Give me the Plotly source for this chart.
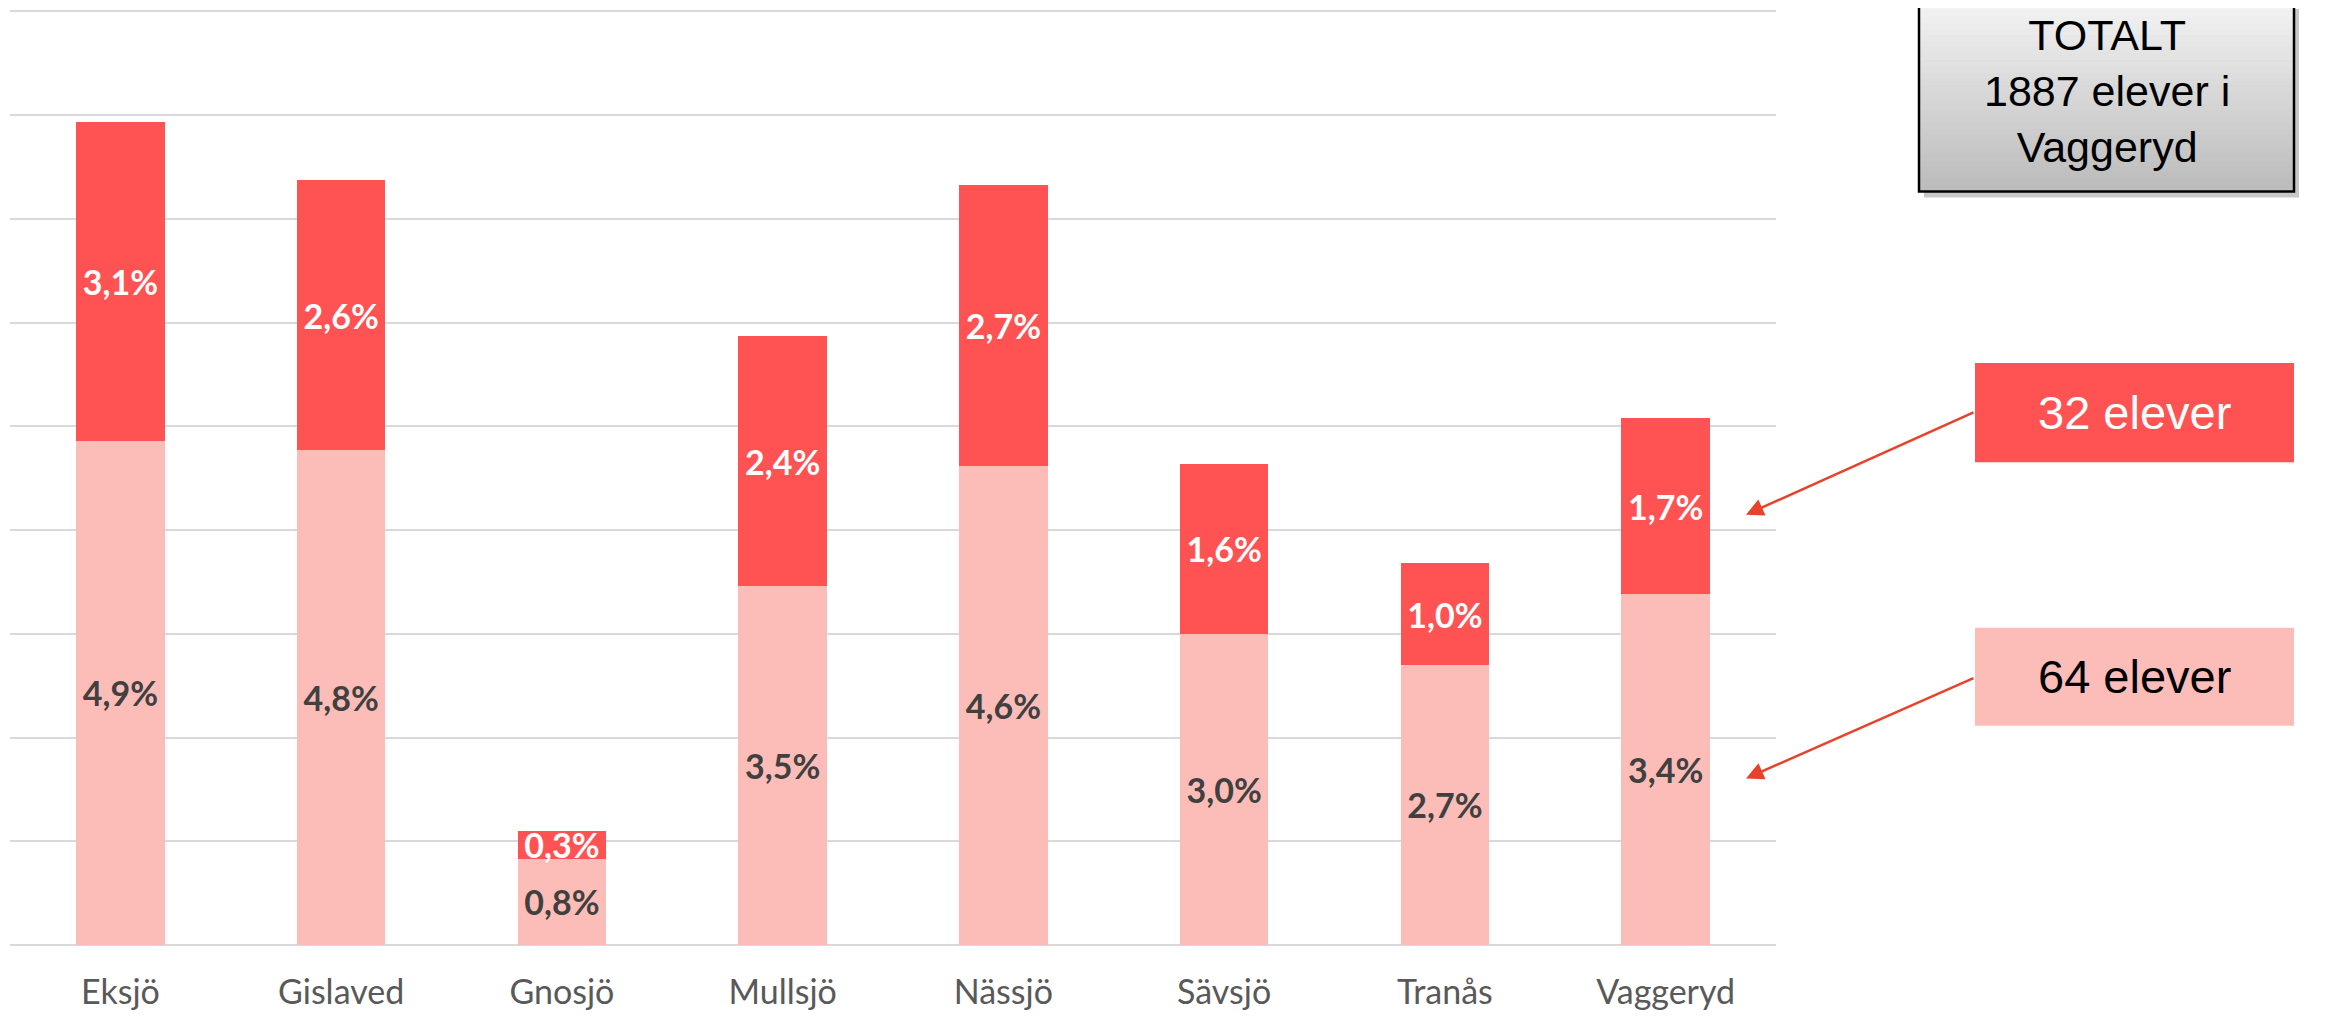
import plotly.graph_objects as go

# kommuner + andel elever (procent) (staplarnas höjd)
kommuner = ["Eksjö", "Gislaved", "Gnosjö", "Mullsjö", "Nässjö", "Sävsjö", "Tranås", "Vaggeryd"]
andel_64 = [4.86, 4.77, 0.83, 3.46, 4.62, 3.0, 2.7, 3.38]
andel_32 = [3.07, 2.6, 0.27, 2.41, 2.71, 1.64, 0.98, 1.7]
y_ticks = [0, 1, 2, 3, 4, 5, 6, 7, 8, 9]

RED = "#ff5252"
PINK = "#fcbdb9"
ARROW = "#e8422b"

# sidan har 8px body-marginal, så figuren görs lite mindre än fönstret
OFF = 8
W, H = 2320, 1005
ML, MR, MT, MB = 2, 552, 2, 60


def px(x):
    # skärmpixel -> paper x
    return (x - OFF - ML) / (W - ML - MR)


def py(y):
    # skärmpixel -> paper y
    return 1 - (y - OFF - MT) / (H - MT - MB)


fig = go.Figure()
fig.add_trace(go.Bar(
    x=kommuner, y=andel_64, name="64 elever",
    marker={"color": PINK, "line": {"width": 0}},
    texttemplate="%{y:.1f}%", textposition="inside", insidetextanchor="middle",
    constraintext="none",
    textfont={"family": "Lato", "size": 34, "color": "#404040", "weight": "bold"},
))
fig.add_trace(go.Bar(
    x=kommuner, y=andel_32, name="32 elever",
    marker={"color": RED, "line": {"width": 0}},
    texttemplate="%{y:.1f}%", textposition="inside", insidetextanchor="middle",
    constraintext="none",
    textfont={"family": "Lato", "size": 34, "color": "white", "weight": "bold"},
))

fig.update_layout(
    width=W, height=H,
    margin={"l": ML, "r": MR, "t": MT, "b": MB},
    barmode="stack", bargap=0.6,
    separators=", ",
    showlegend=False,
    plot_bgcolor="white", paper_bgcolor="white",
    uniformtext={"mode": "show", "minsize": 34},
    xaxis={
        "showgrid": False, "showline": False, "zeroline": False,
        "tickfont": {"family": "Lato", "size": 34, "color": "#595959"},
        "ticks": "", "ticklabelstandoff": 24,
    },
    yaxis={
        "range": [0, 9.012], "tickvals": y_ticks, "showticklabels": False,
        "showgrid": True, "gridcolor": "#d9d9d9", "gridwidth": 2,
        "zeroline": True, "zerolinecolor": "#d9d9d9", "zerolinewidth": 2,
        "showline": False,
    },
)

# TOTALT-ruta: skugga, gradient, ram
bx0, bx1, by0, by1 = 1919, 2294, 4, 193
fig.add_shape(type="rect", xref="paper", yref="paper",
              x0=px(bx0 + 5), x1=px(bx1 + 5), y0=py(by1 + 6), y1=py(by0 + 5),
              fillcolor="#c8c8c8", line={"width": 0}, layer="above")
steps = 30
for i in range(steps):
    t = i / (steps - 1)
    c = int(242 - t * (242 - 188))
    ya = by0 + (by1 - by0) * i / steps
    yb = by0 + (by1 - by0) * (i + 1) / steps
    fig.add_shape(type="rect", xref="paper", yref="paper",
                  x0=px(bx0), x1=px(bx1), y0=py(yb + 0.5), y1=py(ya),
                  fillcolor=f"rgb({c},{c},{c})", line={"width": 0}, layer="above")
fig.add_shape(type="rect", xref="paper", yref="paper",
              x0=px(bx0), x1=px(bx1), y0=py(by1), y1=py(by0 - 10),
              fillcolor="rgba(0,0,0,0)", line={"color": "black", "width": 2.5}, layer="above")
fig.add_annotation(xref="paper", yref="paper", x=px((bx0 + bx1) / 2), y=py(OFF + 0.5),
                   text="TOTALT<br>1887 elever i<br>Vaggeryd", showarrow=False,
                   font={"family": "Liberation Sans", "size": 43, "color": "black"},
                   align="center", xanchor="center", yanchor="top")

# förklaringsrutor med pilar
for (y0, y1, fill, txt, col, tip_y, tail_y) in [
    (366, 466, RED, "32 elever", "white", 519, 416),
    (633, 732, PINK, "64 elever", "black", 785, 684),
]:
    fig.add_shape(type="rect", xref="paper", yref="paper",
                  x0=px(1975), x1=px(2294), y0=py(y1), y1=py(y0),
                  fillcolor=fill, line={"width": 0}, layer="above")
    fig.add_annotation(xref="paper", yref="paper", x=px((1975 + 2294) / 2), y=py((y0 + y1) / 2),
                       text=txt, showarrow=False,
                       font={"family": "Liberation Sans", "size": 47, "color": col},
                       xanchor="center", yanchor="middle")
    fig.add_annotation(xref="paper", yref="paper", x=px(1746), y=py(tip_y),
                       ax=1975 - 1746, ay=tail_y - tip_y, text="",
                       showarrow=True, arrowhead=2, arrowsize=1.4, arrowwidth=2.5,
                       arrowcolor=ARROW)

fig.write_html("out.html", config={"displayModeBar": False})
